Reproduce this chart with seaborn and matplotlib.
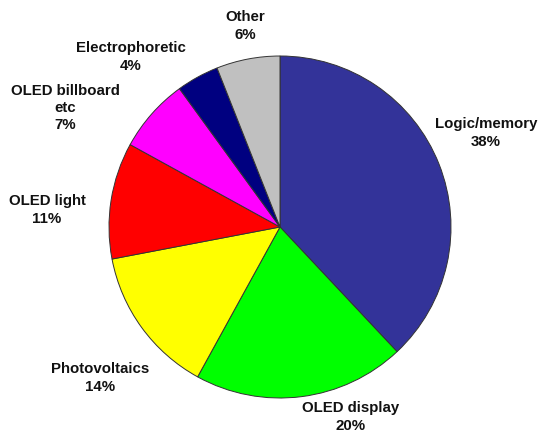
import matplotlib
matplotlib.use("Agg")
import matplotlib.pyplot as plt
import seaborn as sns

# Market share by application segment
categories = ["Logic/memory", "OLED display", "Photovoltaics", "OLED light",
              "OLED billboard\netc", "Electrophoretic", "Other"]
shares = [38, 20, 14, 11, 7, 4, 6]

colors = ["#333399", "#00FF00", "#FFFF00", "#FF0000", "#FF00FF", "#000080", "#C0C0C0"]
# label anchor points in figure pixels (x from left, y from top)
label_pos = [(486, 133), (351, 417), (100, 378), (47, 210), (65, 108), (131, 57), (245, 26)]

sns.set_theme(style="white")
plt.rcParams["font.family"] = ["Liberation Sans", "DejaVu Sans"]

W, H = 538, 432
fig = plt.figure(figsize=(W / 100, H / 100), dpi=100)
fig.patch.set_facecolor("white")
ax = fig.add_axes([0, 0, 1, 1])

ax.pie(shares, colors=colors, startangle=90, counterclock=False,
       center=(280, H - 227), radius=171,
       wedgeprops=dict(edgecolor="#333333", linewidth=0.7))
ax.set_xlim(0, W)
ax.set_ylim(0, H)
ax.set_aspect("equal")
ax.axis("off")

for name, val, (px, py) in zip(categories, shares, label_pos):
    fig.text(px / W, 1 - py / H, f"{name}\n{val}%", ha="center", va="center",
             fontsize=10.8, fontweight="bold", color="#111111", linespacing=1.28)

fig.savefig("out.png", dpi=100, facecolor="white")
